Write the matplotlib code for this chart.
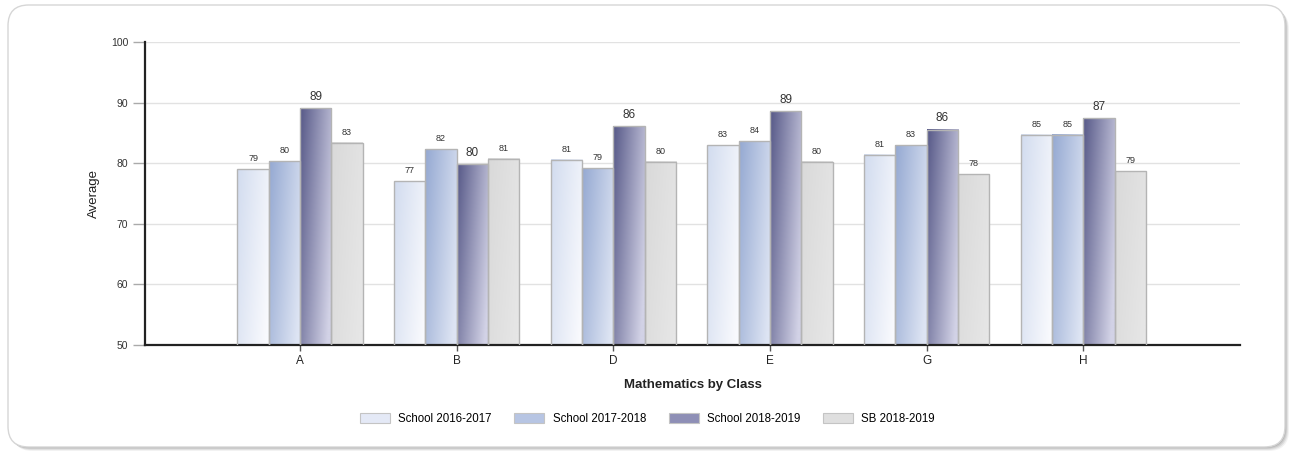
import numpy as np
import matplotlib
matplotlib.use("Agg")
import matplotlib.pyplot as plt
from matplotlib.patches import FancyBboxPatch, Patch
from matplotlib.colors import to_rgb

classes = ["A", "B", "D", "E", "G", "H"]
series_names = ["School 2016-2017", "School 2017-2018", "School 2018-2019", "SB 2018-2019"]
school_2016_2017 = [79.0, 77.0, 80.6, 83.0, 81.4, 84.7]
school_2017_2018 = [80.3, 82.3, 79.2, 83.6, 83.0, 84.7]
school_2018_2019 = [89.1, 79.8, 86.1, 88.6, 85.5, 87.4]
sb_2018_2019 = [83.4, 80.7, 80.2, 80.2, 78.2, 78.7]
series_values = [school_2016_2017, school_2017_2018, school_2018_2019, sb_2018_2019]

# (dark, light) ends of each series' gradient fill
gradients = [("#d2dcef", "#f8f9fd"),
             ("#95a9d2", "#dde4f3"),
             ("#575988", "#d2d2e6"),
             ("#d9d9d9", "#e6e6e6")]
legend_colors = ["#e4e9f6", "#b7c5e3", "#8e8fb6", "#dfdfdf"]

fig = plt.figure(figsize=(12.95, 4.53), dpi=100)
plt.rcParams["font.family"] = ["Liberation Sans", "DejaVu Sans"]

# rounded panel with soft shadow
W, H = 1295, 453
rs = 0.016
for i, a in enumerate([0.05, 0.07, 0.09, 0.11]):
    off = 4 - i
    sh = FancyBboxPatch(((8 + off) / W, (6 - off) / H), 1277 / W, 442 / H,
                        boxstyle=f"round,pad=0,rounding_size={rs}",
                        transform=fig.transFigure, facecolor=(0, 0, 0, a),
                        edgecolor="none", zorder=0, mutation_aspect=W / H)
    fig.patches.append(sh)
panel = FancyBboxPatch((8 / W, 6 / H), 1277 / W, 442 / H,
                       boxstyle=f"round,pad=0,rounding_size={rs}",
                       transform=fig.transFigure, facecolor="white",
                       edgecolor="#d6d6d6", linewidth=1.0, zorder=1,
                       mutation_aspect=W / H)
fig.patches.append(panel)

ax = fig.add_axes([145 / W, 108 / H, 1095 / W, 303 / H])
ax.set_facecolor("none")
ax.set_zorder(2)

x = np.arange(len(classes))
bar_w = 0.2
ny, nx = 64, 32
gx = np.linspace(0, 1, nx)[None, :]
gy = np.linspace(0, 1, ny)[:, None]  # 0 at top row of image
t = np.clip(0.75 * gx + 0.35 * gy, 0, 1)

for si, vals in enumerate(series_values):
    offs = (si - 1.5) * bar_w
    dark = np.array(to_rgb(gradients[si][0]))
    light = np.array(to_rgb(gradients[si][1]))
    img = dark[None, None, :] * (1 - t[..., None]) + light[None, None, :] * t[..., None]
    bars = ax.bar(x + offs, vals, width=bar_w, bottom=0, facecolor="none",
                  edgecolor="#b4b4b4", linewidth=1.0, zorder=3)
    for b, v in zip(bars, vals):
        x0 = b.get_x()
        ax.imshow(img, extent=[x0, x0 + bar_w, 50, v], aspect="auto",
                  interpolation="bilinear", zorder=2.5)
        big = si == 2
        ax.text(b.get_x() + bar_w / 2, v + (0.9 if big else 1.0), f"{v:.0f}",
                ha="center", va="bottom", fontsize=8.5 if big else 6.5,
                color="#333333", zorder=4)

ax.set_xlim(-0.99, 6.0)
ax.set_ylim(50, 100)
ax.set_yticks([50, 60, 70, 80, 90, 100])
ax.set_xticks(x)
ax.set_xticklabels(classes)
ax.yaxis.grid(True, color="#e2e2e2", linewidth=1.0, zorder=0)
ax.set_axisbelow(True)
for s in ["top", "right"]:
    ax.spines[s].set_visible(False)
ax.spines["left"].set_linewidth(1.6)
ax.spines["bottom"].set_linewidth(1.6)
ax.spines["left"].set_color("#222222")
ax.spines["bottom"].set_color("#222222")
ax.tick_params(axis="y", length=9, width=1, color="#aaaaaa", labelsize=7.5,
               labelcolor="#333333", pad=3)
ax.tick_params(axis="x", length=4, width=1, color="#555555", labelsize=8.5,
               labelcolor="#222222", pad=3)

ax.set_ylabel("Average", fontsize=9.5, color="#222222", labelpad=8)
ax.set_xlabel("Mathematics by Class", fontsize=9.5, fontweight="bold",
              color="#222222", labelpad=9)

handles = [Patch(facecolor=c, edgecolor="#c4c4c4", linewidth=0.8) for c in legend_colors]
fig.legend(handles, series_names, loc="center", bbox_to_anchor=(0.5, 34 / H),
           ncol=4, frameon=False, fontsize=8.3, handlelength=2.6, handleheight=0.9,
           columnspacing=2.0, handletextpad=0.7)

fig.savefig("out.png", dpi=100)
